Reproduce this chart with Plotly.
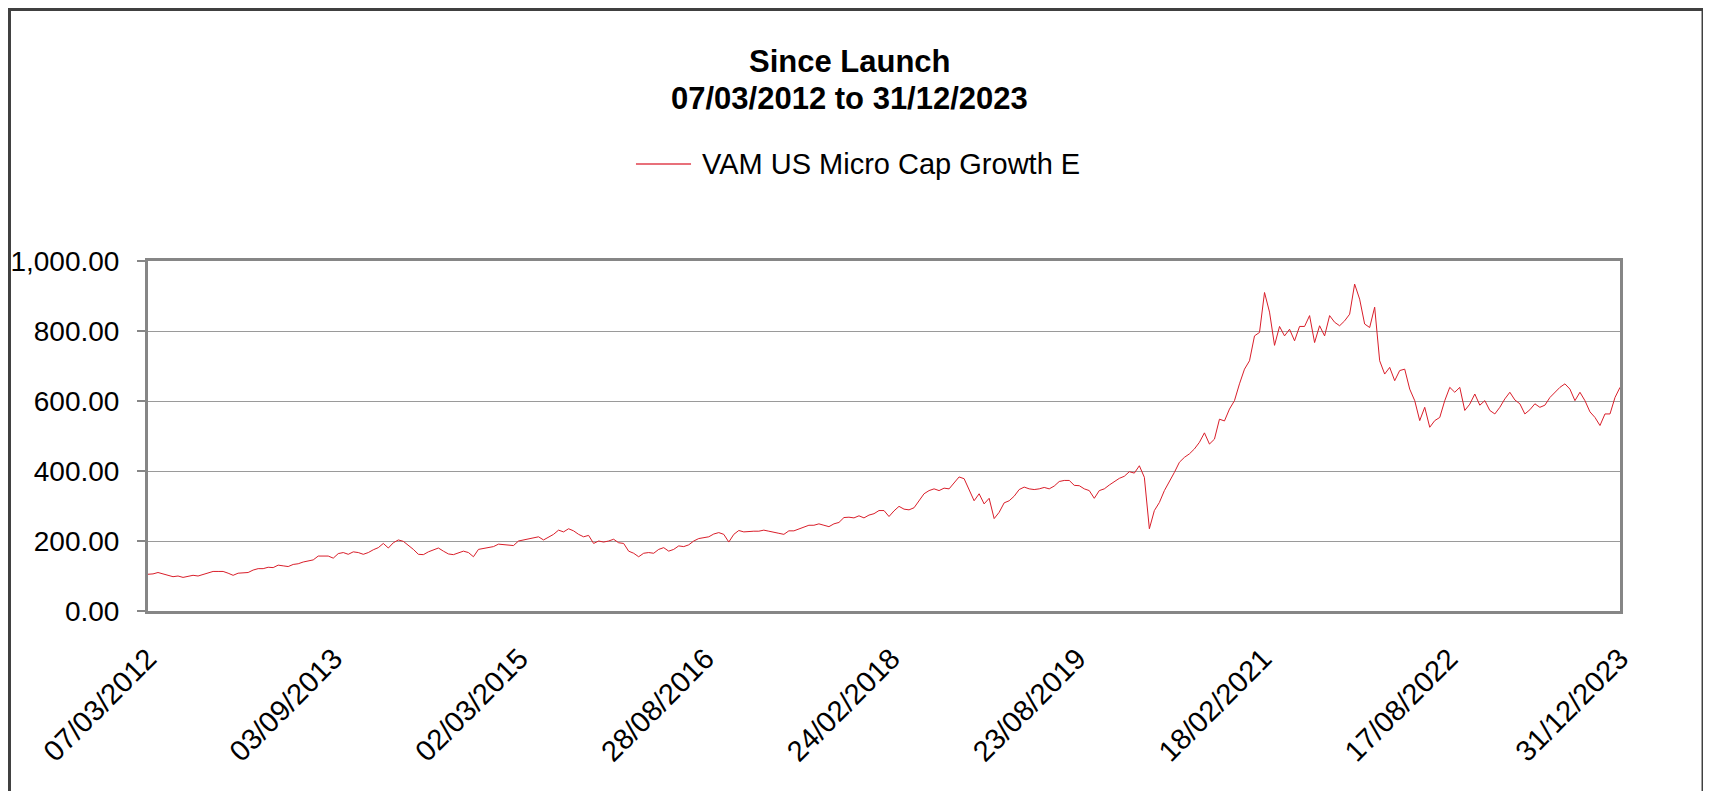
import pandas as pd
import plotly.graph_objects as go

# ---- data ----
start_date = "2012-03-07"
end_date = "2023-12-31"
series_name = "VAM US Micro Cap Growth E"
title_lines = ["Since Launch", "07/03/2012 to 31/12/2023"]

values_2012_2014 = [105, 106, 110, 105, 102, 98, 100, 96, 100, 102,
                    100, 104, 108, 113, 113, 113, 108, 102, 108, 108,
                    110, 117, 121, 121, 125, 124, 131, 129, 127, 133,
                    135, 140, 142, 146, 157, 157, 157, 151, 164, 167,
                    162, 169, 167, 162, 167, 175, 181, 193, 180, 195,
                    203, 199, 188, 176, 162, 161, 169, 175, 180, 171,
                    163, 161, 167]
values_2014_2017 = [171, 167, 155, 176, 178, 180, 184, 191, 189, 187,
                    187, 200, 203, 207, 209, 212, 203, 212, 219, 231,
                    226, 235, 229, 219, 212, 216, 193, 200, 197, 200,
                    205, 195, 193, 171, 165, 155, 165, 167, 165, 176,
                    181, 171, 176, 186, 184, 189, 200, 207, 210, 212,
                    220, 224, 219, 197, 219, 230, 226, 228, 228, 228,
                    231, 228]
values_2017_2019 = [224, 222, 219, 229, 229, 234, 238, 245, 245, 249,
                    245, 241, 249, 253, 267, 268, 266, 272, 266, 274,
                    278, 287, 287, 270, 286, 299, 291, 289, 295, 316,
                    335, 344, 349, 344, 351, 349, 366, 383, 378, 344,
                    315, 335, 306, 322, 264, 282, 309, 315, 328, 347,
                    354, 349, 347, 349, 353, 349, 357, 370, 373, 373,
                    359]
values_2019_2021 = [358, 349, 344, 322, 344, 349, 360, 370, 379, 385,
                    398, 394, 415, 382, 235, 287, 310, 344, 368, 396,
                    425, 439, 449, 463, 482, 509, 477, 491, 548, 543,
                    577, 601, 649, 691, 715, 786, 796, 910, 854, 759,
                    813, 786, 805, 772, 813, 813, 844, 767, 815, 786,
                    844, 825, 815]
values_2021_2023 = [829, 848, 934, 891, 820, 810, 868, 715, 677, 696,
                    658, 687, 691, 634, 601, 544, 582, 525, 544, 553,
                    601, 639, 625, 639, 573, 591, 620, 588, 601, 573,
                    563, 582, 606, 625, 603, 592, 563, 575, 592, 582,
                    588, 610, 625, 639, 649, 634, 601, 625, 601, 569,
                    553, 530, 563, 563, 610, 639]

tick_dates = ["2012-03-07", "2013-09-03", "2015-03-02", "2016-08-28", "2018-02-24",
              "2019-08-23", "2021-02-18", "2022-08-17", "2023-12-31"]
tick_labels = ["07/03/2012", "03/09/2013", "02/03/2015", "28/08/2016", "24/02/2018",
               "23/08/2019", "18/02/2021", "17/08/2022", "31/12/2023"]

values = (values_2012_2014 + values_2014_2017 + values_2017_2019
          + values_2019_2021 + values_2021_2023)
dates = pd.date_range(start_date, end_date, periods=len(values))

FONT = "Liberation Sans, Arial, sans-serif"
GRID = "#9a9a9a"
AXIS = "#868686"
LINE_COLOR = "#d91e2a"

fig = go.Figure()
fig.add_trace(go.Scatter(
    x=dates, y=values, mode="lines", name=series_name,
    line=dict(color=LINE_COLOR, width=1), showlegend=False,
))

fig.update_layout(
    width=1703, height=783,
    paper_bgcolor="white", plot_bgcolor="white",
    margin=dict(l=140, r=91, t=253, b=180, autoexpand=False),
    font=dict(family=FONT, color="black"),
    xaxis=dict(
        type="date", range=[start_date, end_date],
        tickmode="array", tickvals=tick_dates, ticktext=tick_labels,
        tickangle=-45, tickfont=dict(size=29, family=FONT, color="black"),
        showgrid=False, zeroline=False,
        showline=True, linecolor=AXIS, linewidth=3, mirror=True,
        ticks="", ticklabelstandoff=16,
    ),
    yaxis=dict(
        range=[0, 1000], tickmode="linear", tick0=0, dtick=200,
        tickformat=",.2f", tickfont=dict(size=28, family=FONT, color="black"),
        showgrid=True, gridcolor=GRID, gridwidth=1,
        zeroline=False,
        showline=True, linecolor=AXIS, linewidth=3, mirror=True,
        ticks="outside", ticklen=8, tickcolor=AXIS, tickwidth=2,
        ticklabelstandoff=12,
    ),
)

# two-line bold title
for line_text, ypos in zip(title_lines, [1.5686, 1.4657]):
    fig.add_annotation(text="<b>" + line_text + "</b>", xref="paper", yref="paper",
                       x=0.4769, y=ypos, xanchor="center", yanchor="middle",
                       showarrow=False, font=dict(size=31, family=FONT, color="black"))

# legend (drawn by hand so the sample line matches the reference length)
fig.add_shape(type="line", xref="paper", yref="paper",
              x0=0.3315, x1=0.3689, y0=1.277, y1=1.277,
              line=dict(color="#e8707a", width=2))
fig.add_annotation(text=series_name, xref="paper", yref="paper",
                   x=0.3747, y=1.277, xanchor="left", yanchor="middle",
                   showarrow=False, font=dict(size=29, family=FONT, color="black"))

# outer chart frame
fig.add_shape(type="rect", xref="paper", yref="paper",
              x0=-0.0941, x1=1.0564, y0=-0.53, y1=1.7186,
              line=dict(color="#404040", width=3), fillcolor="rgba(0,0,0,0)",
              layer="below")

fig.write_html("out.html")
